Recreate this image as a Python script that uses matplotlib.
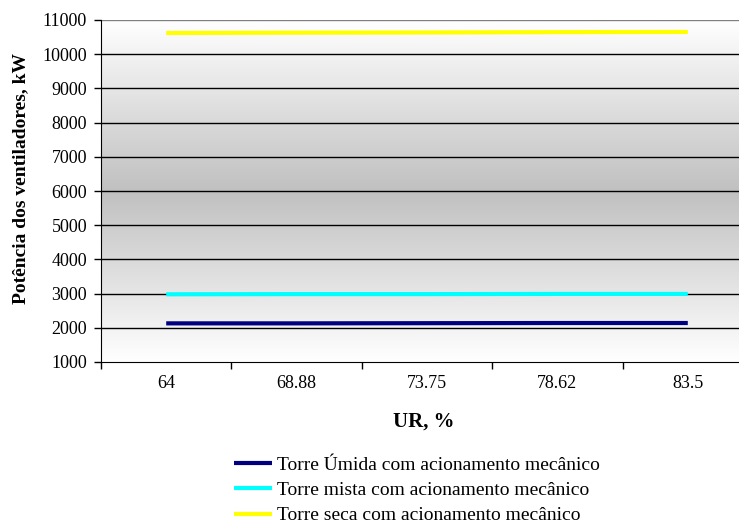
import matplotlib
matplotlib.use("Agg")
import matplotlib.pyplot as plt
import numpy as np
from matplotlib.colors import LinearSegmentedColormap

ur_labels = ["64", "68.88", "73.75", "78.62", "83.5"]
umida = [2130, 2130, 2135, 2140, 2140]
mista = [2980, 2985, 2985, 2990, 2990]
seca = [10620, 10630, 10635, 10645, 10650]
series_names = ["Torre Úmida com acionamento mecânico",
                "Torre mista com acionamento mecânico",
                "Torre seca com acionamento mecânico"]
series_colors = ["#000080", "#00FFFF", "#FFFF00"]

plt.rcParams['font.family'] = ['Liberation Serif', 'DejaVu Serif']
W, H = 739, 527
fig = plt.figure(figsize=(W/100, H/100), dpi=100)
left, right, top, bottom = 101, 753, 20, 362
ax = fig.add_axes([left/W, 1-bottom/H, (right-left)/W, (bottom-top)/H])

# gradient background
cmap = LinearSegmentedColormap.from_list("g", ["#ffffff", "#c0c0c0", "#ffffff"])
grad = np.linspace(0, 1, 256).reshape(-1, 1)
ax.imshow(grad, aspect='auto', cmap=cmap, extent=[0, 1, 0, 1],
          transform=ax.transAxes, zorder=0)

x = np.arange(len(ur_labels))
for vals, name, col in zip([umida, mista, seca], series_names, series_colors):
    ax.plot(x, vals, color=col, lw=3, label=name, zorder=3, solid_capstyle='butt')

ax.set_xlim(-0.5, len(ur_labels)-0.5)
ax.set_ylim(1000, 11000)
ax.set_yticks(np.arange(1000, 11001, 1000))
ax.tick_params(axis='y', labelsize=13, length=5, width=1, direction='out', pad=5)
ax.set_xticks(x)
ax.set_xticklabels(ur_labels)
ax.set_xticks(np.arange(-0.5, len(ur_labels), 1), minor=True)
ax.tick_params(axis='x', which='major', length=0, labelsize=13, pad=9)
ax.tick_params(axis='x', which='minor', length=5, width=1, direction='out')

for yv in range(2000, 11000, 1000):
    ax.axhline(yv, color='black', lw=1, zorder=1)
ax.axhline(11000, color='#808080', lw=1, zorder=1)

ax.spines['top'].set_visible(False)
ax.spines['right'].set_visible(False)
ax.spines['left'].set_color('black')
ax.spines['bottom'].set_color('black')

ax.set_ylabel("Potência dos ventiladores, kW", fontsize=14, fontweight='bold')
ax.yaxis.set_label_coords((29-left)/(right-left), (bottom-178)/(bottom-top))
ax.set_xlabel("UR, %", fontsize=15, fontweight='bold')
xl_center = (424-left)/(right-left)
ax.xaxis.set_label_coords(xl_center, (bottom-412)/(bottom-top))

leg = fig.legend(loc='upper left', bbox_to_anchor=(234/W, 1-456/H), frameon=False,
                 fontsize=14, handlelength=1.95, handletextpad=0.25,
                 labelspacing=0.4, borderpad=0, borderaxespad=0)

fig.savefig("out.png", dpi=100)
